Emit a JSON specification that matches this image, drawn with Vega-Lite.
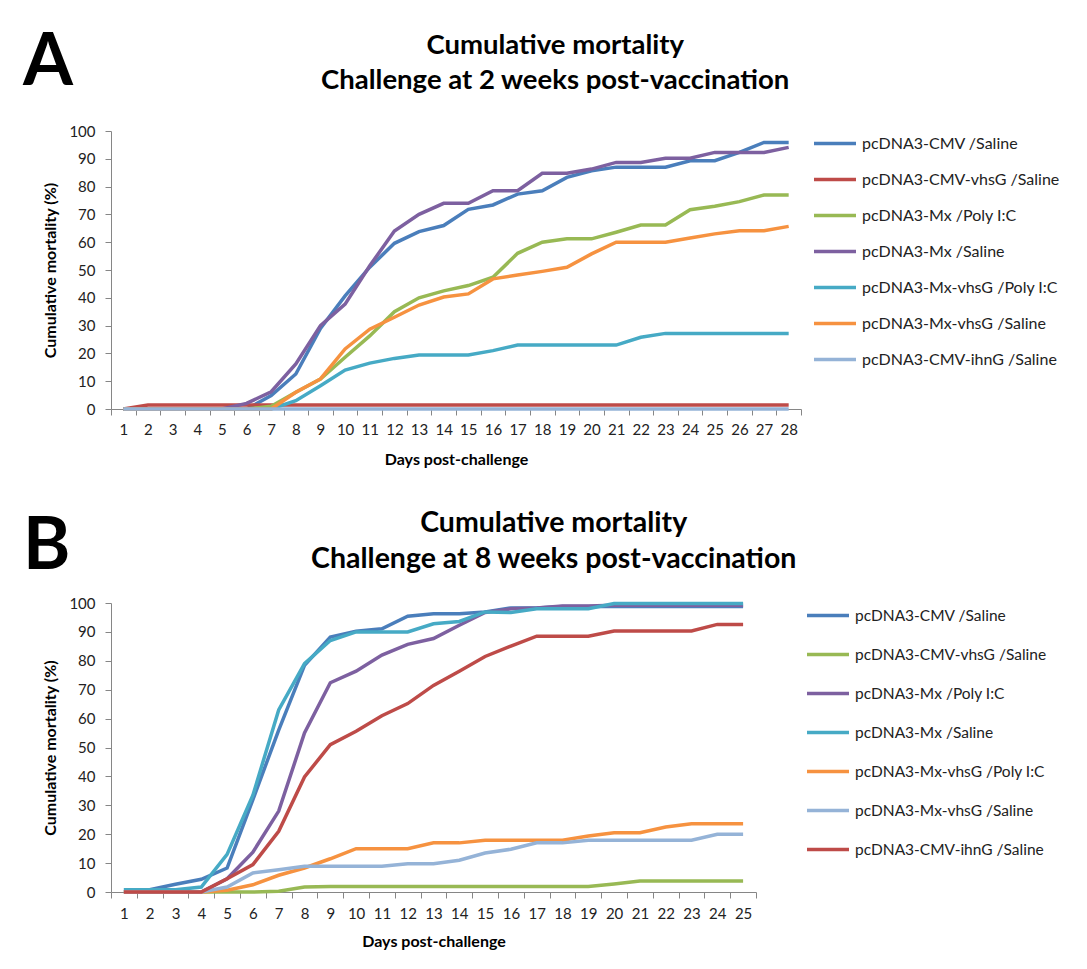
{
"$schema":"https://vega.github.io/schema/vega-lite/v6.json",
"padding":{"left":22,"top":26,"right":5,"bottom":5},
"config":{"font":"Lato","view":{"stroke":null},
 "axis":{"grid":false,"domainColor":"#868686","tickColor":"#868686","labelColor":"#222","labelFontSize":15,"titleFontSize":16,"titleFontWeight":"bold","titleColor":"#000","labelFont":"Lato","titleFont":"Lato"},
 "legend":{"labelColor":"#222","labelFont":"Lato","labelLimit":0},
 "title":{"font":"Lato","color":"#000"}},
"datasets":{
"a":[
{"day":1,"group":"pcDNA3-CMV /Saline","mortality":0},{"day":2,"group":"pcDNA3-CMV /Saline","mortality":0},{"day":3,"group":"pcDNA3-CMV /Saline","mortality":0},{"day":4,"group":"pcDNA3-CMV /Saline","mortality":0},{"day":5,"group":"pcDNA3-CMV /Saline","mortality":0},{"day":6,"group":"pcDNA3-CMV /Saline","mortality":0},{"day":7,"group":"pcDNA3-CMV /Saline","mortality":4.8},{"day":8,"group":"pcDNA3-CMV /Saline","mortality":12.6},{"day":9,"group":"pcDNA3-CMV /Saline","mortality":29},{"day":10,"group":"pcDNA3-CMV /Saline","mortality":40.7},{"day":11,"group":"pcDNA3-CMV /Saline","mortality":51},{"day":12,"group":"pcDNA3-CMV /Saline","mortality":59.6},{"day":13,"group":"pcDNA3-CMV /Saline","mortality":63.8},{"day":14,"group":"pcDNA3-CMV /Saline","mortality":66},{"day":15,"group":"pcDNA3-CMV /Saline","mortality":71.8},{"day":16,"group":"pcDNA3-CMV /Saline","mortality":73.4},{"day":17,"group":"pcDNA3-CMV /Saline","mortality":77.3},{"day":18,"group":"pcDNA3-CMV /Saline","mortality":78.5},{"day":19,"group":"pcDNA3-CMV /Saline","mortality":83.3},{"day":20,"group":"pcDNA3-CMV /Saline","mortality":85.7},{"day":21,"group":"pcDNA3-CMV /Saline","mortality":87},{"day":22,"group":"pcDNA3-CMV /Saline","mortality":87},{"day":23,"group":"pcDNA3-CMV /Saline","mortality":87},{"day":24,"group":"pcDNA3-CMV /Saline","mortality":89.3},{"day":25,"group":"pcDNA3-CMV /Saline","mortality":89.3},{"day":26,"group":"pcDNA3-CMV /Saline","mortality":92.3},{"day":27,"group":"pcDNA3-CMV /Saline","mortality":95.9},{"day":28,"group":"pcDNA3-CMV /Saline","mortality":95.9},
{"day":1,"group":"pcDNA3-CMV-vhsG /Saline","mortality":0},{"day":2,"group":"pcDNA3-CMV-vhsG /Saline","mortality":1.4},{"day":3,"group":"pcDNA3-CMV-vhsG /Saline","mortality":1.4},{"day":4,"group":"pcDNA3-CMV-vhsG /Saline","mortality":1.4},{"day":5,"group":"pcDNA3-CMV-vhsG /Saline","mortality":1.4},{"day":6,"group":"pcDNA3-CMV-vhsG /Saline","mortality":1.4},{"day":7,"group":"pcDNA3-CMV-vhsG /Saline","mortality":1.4},{"day":8,"group":"pcDNA3-CMV-vhsG /Saline","mortality":1.4},{"day":9,"group":"pcDNA3-CMV-vhsG /Saline","mortality":1.4},{"day":10,"group":"pcDNA3-CMV-vhsG /Saline","mortality":1.4},{"day":11,"group":"pcDNA3-CMV-vhsG /Saline","mortality":1.4},{"day":12,"group":"pcDNA3-CMV-vhsG /Saline","mortality":1.4},{"day":13,"group":"pcDNA3-CMV-vhsG /Saline","mortality":1.4},{"day":14,"group":"pcDNA3-CMV-vhsG /Saline","mortality":1.4},{"day":15,"group":"pcDNA3-CMV-vhsG /Saline","mortality":1.4},{"day":16,"group":"pcDNA3-CMV-vhsG /Saline","mortality":1.4},{"day":17,"group":"pcDNA3-CMV-vhsG /Saline","mortality":1.4},{"day":18,"group":"pcDNA3-CMV-vhsG /Saline","mortality":1.4},{"day":19,"group":"pcDNA3-CMV-vhsG /Saline","mortality":1.4},{"day":20,"group":"pcDNA3-CMV-vhsG /Saline","mortality":1.4},{"day":21,"group":"pcDNA3-CMV-vhsG /Saline","mortality":1.4},{"day":22,"group":"pcDNA3-CMV-vhsG /Saline","mortality":1.4},{"day":23,"group":"pcDNA3-CMV-vhsG /Saline","mortality":1.4},{"day":24,"group":"pcDNA3-CMV-vhsG /Saline","mortality":1.4},{"day":25,"group":"pcDNA3-CMV-vhsG /Saline","mortality":1.4},{"day":26,"group":"pcDNA3-CMV-vhsG /Saline","mortality":1.4},{"day":27,"group":"pcDNA3-CMV-vhsG /Saline","mortality":1.4},{"day":28,"group":"pcDNA3-CMV-vhsG /Saline","mortality":1.4},
{"day":1,"group":"pcDNA3-Mx /Poly I:C","mortality":0},{"day":2,"group":"pcDNA3-Mx /Poly I:C","mortality":0},{"day":3,"group":"pcDNA3-Mx /Poly I:C","mortality":0},{"day":4,"group":"pcDNA3-Mx /Poly I:C","mortality":0},{"day":5,"group":"pcDNA3-Mx /Poly I:C","mortality":0},{"day":6,"group":"pcDNA3-Mx /Poly I:C","mortality":0},{"day":7,"group":"pcDNA3-Mx /Poly I:C","mortality":1},{"day":8,"group":"pcDNA3-Mx /Poly I:C","mortality":6},{"day":9,"group":"pcDNA3-Mx /Poly I:C","mortality":10.8},{"day":10,"group":"pcDNA3-Mx /Poly I:C","mortality":18.6},{"day":11,"group":"pcDNA3-Mx /Poly I:C","mortality":26.3},{"day":12,"group":"pcDNA3-Mx /Poly I:C","mortality":35},{"day":13,"group":"pcDNA3-Mx /Poly I:C","mortality":40},{"day":14,"group":"pcDNA3-Mx /Poly I:C","mortality":42.5},{"day":15,"group":"pcDNA3-Mx /Poly I:C","mortality":44.4},{"day":16,"group":"pcDNA3-Mx /Poly I:C","mortality":47.4},{"day":17,"group":"pcDNA3-Mx /Poly I:C","mortality":56},{"day":18,"group":"pcDNA3-Mx /Poly I:C","mortality":60},{"day":19,"group":"pcDNA3-Mx /Poly I:C","mortality":61.2},{"day":20,"group":"pcDNA3-Mx /Poly I:C","mortality":61.2},{"day":21,"group":"pcDNA3-Mx /Poly I:C","mortality":63.6},{"day":22,"group":"pcDNA3-Mx /Poly I:C","mortality":66.2},{"day":23,"group":"pcDNA3-Mx /Poly I:C","mortality":66.2},{"day":24,"group":"pcDNA3-Mx /Poly I:C","mortality":71.7},{"day":25,"group":"pcDNA3-Mx /Poly I:C","mortality":72.9},{"day":26,"group":"pcDNA3-Mx /Poly I:C","mortality":74.6},{"day":27,"group":"pcDNA3-Mx /Poly I:C","mortality":77},{"day":28,"group":"pcDNA3-Mx /Poly I:C","mortality":77},
{"day":1,"group":"pcDNA3-Mx /Saline","mortality":0},{"day":2,"group":"pcDNA3-Mx /Saline","mortality":0},{"day":3,"group":"pcDNA3-Mx /Saline","mortality":0},{"day":4,"group":"pcDNA3-Mx /Saline","mortality":0},{"day":5,"group":"pcDNA3-Mx /Saline","mortality":0},{"day":6,"group":"pcDNA3-Mx /Saline","mortality":2},{"day":7,"group":"pcDNA3-Mx /Saline","mortality":6.2},{"day":8,"group":"pcDNA3-Mx /Saline","mortality":16.2},{"day":9,"group":"pcDNA3-Mx /Saline","mortality":30},{"day":10,"group":"pcDNA3-Mx /Saline","mortality":37.7},{"day":11,"group":"pcDNA3-Mx /Saline","mortality":51.5},{"day":12,"group":"pcDNA3-Mx /Saline","mortality":64},{"day":13,"group":"pcDNA3-Mx /Saline","mortality":70},{"day":14,"group":"pcDNA3-Mx /Saline","mortality":74},{"day":15,"group":"pcDNA3-Mx /Saline","mortality":74},{"day":16,"group":"pcDNA3-Mx /Saline","mortality":78.5},{"day":17,"group":"pcDNA3-Mx /Saline","mortality":78.5},{"day":18,"group":"pcDNA3-Mx /Saline","mortality":84.8},{"day":19,"group":"pcDNA3-Mx /Saline","mortality":84.8},{"day":20,"group":"pcDNA3-Mx /Saline","mortality":86.3},{"day":21,"group":"pcDNA3-Mx /Saline","mortality":88.7},{"day":22,"group":"pcDNA3-Mx /Saline","mortality":88.7},{"day":23,"group":"pcDNA3-Mx /Saline","mortality":90.2},{"day":24,"group":"pcDNA3-Mx /Saline","mortality":90.2},{"day":25,"group":"pcDNA3-Mx /Saline","mortality":92.3},{"day":26,"group":"pcDNA3-Mx /Saline","mortality":92.3},{"day":27,"group":"pcDNA3-Mx /Saline","mortality":92.3},{"day":28,"group":"pcDNA3-Mx /Saline","mortality":94.1},
{"day":1,"group":"pcDNA3-Mx-vhsG /Poly I:C","mortality":0},{"day":2,"group":"pcDNA3-Mx-vhsG /Poly I:C","mortality":0},{"day":3,"group":"pcDNA3-Mx-vhsG /Poly I:C","mortality":0},{"day":4,"group":"pcDNA3-Mx-vhsG /Poly I:C","mortality":0},{"day":5,"group":"pcDNA3-Mx-vhsG /Poly I:C","mortality":0},{"day":6,"group":"pcDNA3-Mx-vhsG /Poly I:C","mortality":0},{"day":7,"group":"pcDNA3-Mx-vhsG /Poly I:C","mortality":0},{"day":8,"group":"pcDNA3-Mx-vhsG /Poly I:C","mortality":3},{"day":9,"group":"pcDNA3-Mx-vhsG /Poly I:C","mortality":8.4},{"day":10,"group":"pcDNA3-Mx-vhsG /Poly I:C","mortality":14},{"day":11,"group":"pcDNA3-Mx-vhsG /Poly I:C","mortality":16.5},{"day":12,"group":"pcDNA3-Mx-vhsG /Poly I:C","mortality":18.2},{"day":13,"group":"pcDNA3-Mx-vhsG /Poly I:C","mortality":19.4},{"day":14,"group":"pcDNA3-Mx-vhsG /Poly I:C","mortality":19.4},{"day":15,"group":"pcDNA3-Mx-vhsG /Poly I:C","mortality":19.4},{"day":16,"group":"pcDNA3-Mx-vhsG /Poly I:C","mortality":21},{"day":17,"group":"pcDNA3-Mx-vhsG /Poly I:C","mortality":23},{"day":18,"group":"pcDNA3-Mx-vhsG /Poly I:C","mortality":23},{"day":19,"group":"pcDNA3-Mx-vhsG /Poly I:C","mortality":23},{"day":20,"group":"pcDNA3-Mx-vhsG /Poly I:C","mortality":23},{"day":21,"group":"pcDNA3-Mx-vhsG /Poly I:C","mortality":23},{"day":22,"group":"pcDNA3-Mx-vhsG /Poly I:C","mortality":25.8},{"day":23,"group":"pcDNA3-Mx-vhsG /Poly I:C","mortality":27.2},{"day":24,"group":"pcDNA3-Mx-vhsG /Poly I:C","mortality":27.2},{"day":25,"group":"pcDNA3-Mx-vhsG /Poly I:C","mortality":27.2},{"day":26,"group":"pcDNA3-Mx-vhsG /Poly I:C","mortality":27.2},{"day":27,"group":"pcDNA3-Mx-vhsG /Poly I:C","mortality":27.2},{"day":28,"group":"pcDNA3-Mx-vhsG /Poly I:C","mortality":27.2},
{"day":1,"group":"pcDNA3-Mx-vhsG /Saline","mortality":0},{"day":2,"group":"pcDNA3-Mx-vhsG /Saline","mortality":0},{"day":3,"group":"pcDNA3-Mx-vhsG /Saline","mortality":0},{"day":4,"group":"pcDNA3-Mx-vhsG /Saline","mortality":0},{"day":5,"group":"pcDNA3-Mx-vhsG /Saline","mortality":0},{"day":6,"group":"pcDNA3-Mx-vhsG /Saline","mortality":0},{"day":7,"group":"pcDNA3-Mx-vhsG /Saline","mortality":0},{"day":8,"group":"pcDNA3-Mx-vhsG /Saline","mortality":6},{"day":9,"group":"pcDNA3-Mx-vhsG /Saline","mortality":10.8},{"day":10,"group":"pcDNA3-Mx-vhsG /Saline","mortality":21.6},{"day":11,"group":"pcDNA3-Mx-vhsG /Saline","mortality":28.7},{"day":12,"group":"pcDNA3-Mx-vhsG /Saline","mortality":33},{"day":13,"group":"pcDNA3-Mx-vhsG /Saline","mortality":37.4},{"day":14,"group":"pcDNA3-Mx-vhsG /Saline","mortality":40.3},{"day":15,"group":"pcDNA3-Mx-vhsG /Saline","mortality":41.4},{"day":16,"group":"pcDNA3-Mx-vhsG /Saline","mortality":46.8},{"day":17,"group":"pcDNA3-Mx-vhsG /Saline","mortality":48.2},{"day":18,"group":"pcDNA3-Mx-vhsG /Saline","mortality":49.5},{"day":19,"group":"pcDNA3-Mx-vhsG /Saline","mortality":51},{"day":20,"group":"pcDNA3-Mx-vhsG /Saline","mortality":55.8},{"day":21,"group":"pcDNA3-Mx-vhsG /Saline","mortality":60},{"day":22,"group":"pcDNA3-Mx-vhsG /Saline","mortality":60},{"day":23,"group":"pcDNA3-Mx-vhsG /Saline","mortality":60},{"day":24,"group":"pcDNA3-Mx-vhsG /Saline","mortality":61.5},{"day":25,"group":"pcDNA3-Mx-vhsG /Saline","mortality":63},{"day":26,"group":"pcDNA3-Mx-vhsG /Saline","mortality":64.1},{"day":27,"group":"pcDNA3-Mx-vhsG /Saline","mortality":64.1},{"day":28,"group":"pcDNA3-Mx-vhsG /Saline","mortality":65.7},
{"day":1,"group":"pcDNA3-CMV-ihnG /Saline","mortality":0},{"day":2,"group":"pcDNA3-CMV-ihnG /Saline","mortality":0},{"day":3,"group":"pcDNA3-CMV-ihnG /Saline","mortality":0},{"day":4,"group":"pcDNA3-CMV-ihnG /Saline","mortality":0},{"day":5,"group":"pcDNA3-CMV-ihnG /Saline","mortality":0},{"day":6,"group":"pcDNA3-CMV-ihnG /Saline","mortality":0},{"day":7,"group":"pcDNA3-CMV-ihnG /Saline","mortality":0},{"day":8,"group":"pcDNA3-CMV-ihnG /Saline","mortality":0},{"day":9,"group":"pcDNA3-CMV-ihnG /Saline","mortality":0},{"day":10,"group":"pcDNA3-CMV-ihnG /Saline","mortality":0},{"day":11,"group":"pcDNA3-CMV-ihnG /Saline","mortality":0},{"day":12,"group":"pcDNA3-CMV-ihnG /Saline","mortality":0},{"day":13,"group":"pcDNA3-CMV-ihnG /Saline","mortality":0},{"day":14,"group":"pcDNA3-CMV-ihnG /Saline","mortality":0},{"day":15,"group":"pcDNA3-CMV-ihnG /Saline","mortality":0},{"day":16,"group":"pcDNA3-CMV-ihnG /Saline","mortality":0},{"day":17,"group":"pcDNA3-CMV-ihnG /Saline","mortality":0},{"day":18,"group":"pcDNA3-CMV-ihnG /Saline","mortality":0},{"day":19,"group":"pcDNA3-CMV-ihnG /Saline","mortality":0},{"day":20,"group":"pcDNA3-CMV-ihnG /Saline","mortality":0},{"day":21,"group":"pcDNA3-CMV-ihnG /Saline","mortality":0},{"day":22,"group":"pcDNA3-CMV-ihnG /Saline","mortality":0},{"day":23,"group":"pcDNA3-CMV-ihnG /Saline","mortality":0},{"day":24,"group":"pcDNA3-CMV-ihnG /Saline","mortality":0},{"day":25,"group":"pcDNA3-CMV-ihnG /Saline","mortality":0},{"day":26,"group":"pcDNA3-CMV-ihnG /Saline","mortality":0},{"day":27,"group":"pcDNA3-CMV-ihnG /Saline","mortality":0},{"day":28,"group":"pcDNA3-CMV-ihnG /Saline","mortality":0}
],
"b":[
{"day":1,"group":"pcDNA3-CMV /Saline","mortality":0.8},{"day":2,"group":"pcDNA3-CMV /Saline","mortality":0.8},{"day":3,"group":"pcDNA3-CMV /Saline","mortality":2.7},{"day":4,"group":"pcDNA3-CMV /Saline","mortality":4.4},{"day":5,"group":"pcDNA3-CMV /Saline","mortality":8.3},{"day":6,"group":"pcDNA3-CMV /Saline","mortality":32},{"day":7,"group":"pcDNA3-CMV /Saline","mortality":56},{"day":8,"group":"pcDNA3-CMV /Saline","mortality":78.4},{"day":9,"group":"pcDNA3-CMV /Saline","mortality":88.2},{"day":10,"group":"pcDNA3-CMV /Saline","mortality":90.2},{"day":11,"group":"pcDNA3-CMV /Saline","mortality":91.1},{"day":12,"group":"pcDNA3-CMV /Saline","mortality":95.4},{"day":13,"group":"pcDNA3-CMV /Saline","mortality":96.3},{"day":14,"group":"pcDNA3-CMV /Saline","mortality":96.3},{"day":15,"group":"pcDNA3-CMV /Saline","mortality":96.9},{"day":16,"group":"pcDNA3-CMV /Saline","mortality":98.3},{"day":17,"group":"pcDNA3-CMV /Saline","mortality":98.3},{"day":18,"group":"pcDNA3-CMV /Saline","mortality":98.8},{"day":19,"group":"pcDNA3-CMV /Saline","mortality":98.8},{"day":20,"group":"pcDNA3-CMV /Saline","mortality":98.8},{"day":21,"group":"pcDNA3-CMV /Saline","mortality":98.8},{"day":22,"group":"pcDNA3-CMV /Saline","mortality":98.8},{"day":23,"group":"pcDNA3-CMV /Saline","mortality":98.8},{"day":24,"group":"pcDNA3-CMV /Saline","mortality":98.8},{"day":25,"group":"pcDNA3-CMV /Saline","mortality":98.8},
{"day":1,"group":"pcDNA3-CMV-vhsG /Saline","mortality":0},{"day":2,"group":"pcDNA3-CMV-vhsG /Saline","mortality":0},{"day":3,"group":"pcDNA3-CMV-vhsG /Saline","mortality":0},{"day":4,"group":"pcDNA3-CMV-vhsG /Saline","mortality":0},{"day":5,"group":"pcDNA3-CMV-vhsG /Saline","mortality":0},{"day":6,"group":"pcDNA3-CMV-vhsG /Saline","mortality":0},{"day":7,"group":"pcDNA3-CMV-vhsG /Saline","mortality":0.3},{"day":8,"group":"pcDNA3-CMV-vhsG /Saline","mortality":1.7},{"day":9,"group":"pcDNA3-CMV-vhsG /Saline","mortality":1.9},{"day":10,"group":"pcDNA3-CMV-vhsG /Saline","mortality":1.9},{"day":11,"group":"pcDNA3-CMV-vhsG /Saline","mortality":1.9},{"day":12,"group":"pcDNA3-CMV-vhsG /Saline","mortality":1.9},{"day":13,"group":"pcDNA3-CMV-vhsG /Saline","mortality":1.9},{"day":14,"group":"pcDNA3-CMV-vhsG /Saline","mortality":1.9},{"day":15,"group":"pcDNA3-CMV-vhsG /Saline","mortality":1.9},{"day":16,"group":"pcDNA3-CMV-vhsG /Saline","mortality":1.9},{"day":17,"group":"pcDNA3-CMV-vhsG /Saline","mortality":1.9},{"day":18,"group":"pcDNA3-CMV-vhsG /Saline","mortality":1.9},{"day":19,"group":"pcDNA3-CMV-vhsG /Saline","mortality":1.9},{"day":20,"group":"pcDNA3-CMV-vhsG /Saline","mortality":2.8},{"day":21,"group":"pcDNA3-CMV-vhsG /Saline","mortality":3.8},{"day":22,"group":"pcDNA3-CMV-vhsG /Saline","mortality":3.8},{"day":23,"group":"pcDNA3-CMV-vhsG /Saline","mortality":3.8},{"day":24,"group":"pcDNA3-CMV-vhsG /Saline","mortality":3.8},{"day":25,"group":"pcDNA3-CMV-vhsG /Saline","mortality":3.8},
{"day":1,"group":"pcDNA3-Mx /Poly I:C","mortality":0},{"day":2,"group":"pcDNA3-Mx /Poly I:C","mortality":0},{"day":3,"group":"pcDNA3-Mx /Poly I:C","mortality":0},{"day":4,"group":"pcDNA3-Mx /Poly I:C","mortality":0},{"day":5,"group":"pcDNA3-Mx /Poly I:C","mortality":4.6},{"day":6,"group":"pcDNA3-Mx /Poly I:C","mortality":13.8},{"day":7,"group":"pcDNA3-Mx /Poly I:C","mortality":28},{"day":8,"group":"pcDNA3-Mx /Poly I:C","mortality":55},{"day":9,"group":"pcDNA3-Mx /Poly I:C","mortality":72.4},{"day":10,"group":"pcDNA3-Mx /Poly I:C","mortality":76.4},{"day":11,"group":"pcDNA3-Mx /Poly I:C","mortality":82},{"day":12,"group":"pcDNA3-Mx /Poly I:C","mortality":85.7},{"day":13,"group":"pcDNA3-Mx /Poly I:C","mortality":87.7},{"day":14,"group":"pcDNA3-Mx /Poly I:C","mortality":92.3},{"day":15,"group":"pcDNA3-Mx /Poly I:C","mortality":96.7},{"day":16,"group":"pcDNA3-Mx /Poly I:C","mortality":98},{"day":17,"group":"pcDNA3-Mx /Poly I:C","mortality":98.3},{"day":18,"group":"pcDNA3-Mx /Poly I:C","mortality":99},{"day":19,"group":"pcDNA3-Mx /Poly I:C","mortality":99},{"day":20,"group":"pcDNA3-Mx /Poly I:C","mortality":99.2},{"day":21,"group":"pcDNA3-Mx /Poly I:C","mortality":99.2},{"day":22,"group":"pcDNA3-Mx /Poly I:C","mortality":99.2},{"day":23,"group":"pcDNA3-Mx /Poly I:C","mortality":99.2},{"day":24,"group":"pcDNA3-Mx /Poly I:C","mortality":99.2},{"day":25,"group":"pcDNA3-Mx /Poly I:C","mortality":99.2},
{"day":1,"group":"pcDNA3-Mx /Saline","mortality":0.8},{"day":2,"group":"pcDNA3-Mx /Saline","mortality":0.8},{"day":3,"group":"pcDNA3-Mx /Saline","mortality":0.8},{"day":4,"group":"pcDNA3-Mx /Saline","mortality":1.7},{"day":5,"group":"pcDNA3-Mx /Saline","mortality":13},{"day":6,"group":"pcDNA3-Mx /Saline","mortality":33.5},{"day":7,"group":"pcDNA3-Mx /Saline","mortality":63},{"day":8,"group":"pcDNA3-Mx /Saline","mortality":79},{"day":9,"group":"pcDNA3-Mx /Saline","mortality":87},{"day":10,"group":"pcDNA3-Mx /Saline","mortality":90},{"day":11,"group":"pcDNA3-Mx /Saline","mortality":90},{"day":12,"group":"pcDNA3-Mx /Saline","mortality":90},{"day":13,"group":"pcDNA3-Mx /Saline","mortality":92.8},{"day":14,"group":"pcDNA3-Mx /Saline","mortality":93.6},{"day":15,"group":"pcDNA3-Mx /Saline","mortality":96.9},{"day":16,"group":"pcDNA3-Mx /Saline","mortality":96.7},{"day":17,"group":"pcDNA3-Mx /Saline","mortality":98},{"day":18,"group":"pcDNA3-Mx /Saline","mortality":98},{"day":19,"group":"pcDNA3-Mx /Saline","mortality":98},{"day":20,"group":"pcDNA3-Mx /Saline","mortality":99.8},{"day":21,"group":"pcDNA3-Mx /Saline","mortality":99.8},{"day":22,"group":"pcDNA3-Mx /Saline","mortality":99.8},{"day":23,"group":"pcDNA3-Mx /Saline","mortality":99.8},{"day":24,"group":"pcDNA3-Mx /Saline","mortality":99.8},{"day":25,"group":"pcDNA3-Mx /Saline","mortality":99.8},
{"day":1,"group":"pcDNA3-Mx-vhsG /Poly I:C","mortality":0},{"day":2,"group":"pcDNA3-Mx-vhsG /Poly I:C","mortality":0},{"day":3,"group":"pcDNA3-Mx-vhsG /Poly I:C","mortality":0},{"day":4,"group":"pcDNA3-Mx-vhsG /Poly I:C","mortality":0},{"day":5,"group":"pcDNA3-Mx-vhsG /Poly I:C","mortality":0.6},{"day":6,"group":"pcDNA3-Mx-vhsG /Poly I:C","mortality":2.5},{"day":7,"group":"pcDNA3-Mx-vhsG /Poly I:C","mortality":5.8},{"day":8,"group":"pcDNA3-Mx-vhsG /Poly I:C","mortality":8.3},{"day":9,"group":"pcDNA3-Mx-vhsG /Poly I:C","mortality":11.5},{"day":10,"group":"pcDNA3-Mx-vhsG /Poly I:C","mortality":15},{"day":11,"group":"pcDNA3-Mx-vhsG /Poly I:C","mortality":15},{"day":12,"group":"pcDNA3-Mx-vhsG /Poly I:C","mortality":15},{"day":13,"group":"pcDNA3-Mx-vhsG /Poly I:C","mortality":17},{"day":14,"group":"pcDNA3-Mx-vhsG /Poly I:C","mortality":17},{"day":15,"group":"pcDNA3-Mx-vhsG /Poly I:C","mortality":17.9},{"day":16,"group":"pcDNA3-Mx-vhsG /Poly I:C","mortality":17.9},{"day":17,"group":"pcDNA3-Mx-vhsG /Poly I:C","mortality":17.9},{"day":18,"group":"pcDNA3-Mx-vhsG /Poly I:C","mortality":17.9},{"day":19,"group":"pcDNA3-Mx-vhsG /Poly I:C","mortality":19.4},{"day":20,"group":"pcDNA3-Mx-vhsG /Poly I:C","mortality":20.5},{"day":21,"group":"pcDNA3-Mx-vhsG /Poly I:C","mortality":20.5},{"day":22,"group":"pcDNA3-Mx-vhsG /Poly I:C","mortality":22.5},{"day":23,"group":"pcDNA3-Mx-vhsG /Poly I:C","mortality":23.6},{"day":24,"group":"pcDNA3-Mx-vhsG /Poly I:C","mortality":23.6},{"day":25,"group":"pcDNA3-Mx-vhsG /Poly I:C","mortality":23.6},
{"day":1,"group":"pcDNA3-Mx-vhsG /Saline","mortality":0},{"day":2,"group":"pcDNA3-Mx-vhsG /Saline","mortality":0},{"day":3,"group":"pcDNA3-Mx-vhsG /Saline","mortality":0},{"day":4,"group":"pcDNA3-Mx-vhsG /Saline","mortality":0},{"day":5,"group":"pcDNA3-Mx-vhsG /Saline","mortality":1.7},{"day":6,"group":"pcDNA3-Mx-vhsG /Saline","mortality":6.6},{"day":7,"group":"pcDNA3-Mx-vhsG /Saline","mortality":7.7},{"day":8,"group":"pcDNA3-Mx-vhsG /Saline","mortality":8.9},{"day":9,"group":"pcDNA3-Mx-vhsG /Saline","mortality":8.9},{"day":10,"group":"pcDNA3-Mx-vhsG /Saline","mortality":8.9},{"day":11,"group":"pcDNA3-Mx-vhsG /Saline","mortality":8.9},{"day":12,"group":"pcDNA3-Mx-vhsG /Saline","mortality":9.8},{"day":13,"group":"pcDNA3-Mx-vhsG /Saline","mortality":9.8},{"day":14,"group":"pcDNA3-Mx-vhsG /Saline","mortality":11},{"day":15,"group":"pcDNA3-Mx-vhsG /Saline","mortality":13.5},{"day":16,"group":"pcDNA3-Mx-vhsG /Saline","mortality":14.8},{"day":17,"group":"pcDNA3-Mx-vhsG /Saline","mortality":17},{"day":18,"group":"pcDNA3-Mx-vhsG /Saline","mortality":17},{"day":19,"group":"pcDNA3-Mx-vhsG /Saline","mortality":17.9},{"day":20,"group":"pcDNA3-Mx-vhsG /Saline","mortality":17.9},{"day":21,"group":"pcDNA3-Mx-vhsG /Saline","mortality":17.9},{"day":22,"group":"pcDNA3-Mx-vhsG /Saline","mortality":17.9},{"day":23,"group":"pcDNA3-Mx-vhsG /Saline","mortality":17.9},{"day":24,"group":"pcDNA3-Mx-vhsG /Saline","mortality":20},{"day":25,"group":"pcDNA3-Mx-vhsG /Saline","mortality":20},
{"day":1,"group":"pcDNA3-CMV-ihnG /Saline","mortality":0},{"day":2,"group":"pcDNA3-CMV-ihnG /Saline","mortality":0},{"day":3,"group":"pcDNA3-CMV-ihnG /Saline","mortality":0},{"day":4,"group":"pcDNA3-CMV-ihnG /Saline","mortality":0},{"day":5,"group":"pcDNA3-CMV-ihnG /Saline","mortality":4.6},{"day":6,"group":"pcDNA3-CMV-ihnG /Saline","mortality":9.5},{"day":7,"group":"pcDNA3-CMV-ihnG /Saline","mortality":21},{"day":8,"group":"pcDNA3-CMV-ihnG /Saline","mortality":39.8},{"day":9,"group":"pcDNA3-CMV-ihnG /Saline","mortality":51},{"day":10,"group":"pcDNA3-CMV-ihnG /Saline","mortality":55.6},{"day":11,"group":"pcDNA3-CMV-ihnG /Saline","mortality":61},{"day":12,"group":"pcDNA3-CMV-ihnG /Saline","mortality":65.2},{"day":13,"group":"pcDNA3-CMV-ihnG /Saline","mortality":71.5},{"day":14,"group":"pcDNA3-CMV-ihnG /Saline","mortality":76.4},{"day":15,"group":"pcDNA3-CMV-ihnG /Saline","mortality":81.5},{"day":16,"group":"pcDNA3-CMV-ihnG /Saline","mortality":85.1},{"day":17,"group":"pcDNA3-CMV-ihnG /Saline","mortality":88.5},{"day":18,"group":"pcDNA3-CMV-ihnG /Saline","mortality":88.5},{"day":19,"group":"pcDNA3-CMV-ihnG /Saline","mortality":88.5},{"day":20,"group":"pcDNA3-CMV-ihnG /Saline","mortality":90.3},{"day":21,"group":"pcDNA3-CMV-ihnG /Saline","mortality":90.3},{"day":22,"group":"pcDNA3-CMV-ihnG /Saline","mortality":90.3},{"day":23,"group":"pcDNA3-CMV-ihnG /Saline","mortality":90.3},{"day":24,"group":"pcDNA3-CMV-ihnG /Saline","mortality":92.6},{"day":25,"group":"pcDNA3-CMV-ihnG /Saline","mortality":92.6}
]},
"spacing":41,
"resolve":{"scale":{"color":"independent","x":"independent","y":"independent"},"legend":{"color":"independent"}},
"vconcat":[
{"title":{"text":"A","anchor":"start","frame":"bounds","fontSize":72,"fontWeight":"bold","offset":-68,"dx":-20},
 "vconcat":[{
  "data":{"name":"a"},
  "width":690,"height":278,
  "title":{"text":["Cumulative mortality","Challenge at 2 weeks post-vaccination"],"fontSize":27.5,"fontWeight":"bold","lineHeight":35,"anchor":"middle","frame":"bounds","offset":30,"dx":133},
  "mark":{"type":"line","strokeWidth":3.5},
  "encoding":{
   "x":{"field":"day","type":"ordinal","bandPosition":0.5,"scale":{"type":"band","paddingInner":0,"paddingOuter":0},
        "axis":{"title":"Days post-challenge","labelAngle":0,"tickBand":"extent","tickSize":6,"labelPadding":7,"titlePadding":14}},
   "y":{"field":"mortality","type":"quantitative","scale":{"domain":[0,100]},
        "axis":{"title":"Cumulative mortality (%)","values":[0,10,20,30,40,50,60,70,80,90,100],"tickSize":6,"labelPadding":10,"titlePadding":10}},
   "color":{"field":"group","type":"nominal",
     "scale":{"domain":["pcDNA3-CMV /Saline","pcDNA3-CMV-vhsG /Saline","pcDNA3-Mx /Poly I:C","pcDNA3-Mx /Saline","pcDNA3-Mx-vhsG /Poly I:C","pcDNA3-Mx-vhsG /Saline","pcDNA3-CMV-ihnG /Saline"],
              "range":["#4A7EBB","#BE4B48","#98B954","#7D60A0","#46AAC5","#F69240","#95B3D7"]},
     "legend":{"title":null,"orient":"right","symbolType":"M-1,0H3","symbolSize":441,"symbolStrokeWidth":3.5,"labelFontSize":16,"rowPadding":15,"offset":10,"labelOffset":25,"padding":0}}
  }
 }]
},
{"title":{"text":"B","anchor":"start","frame":"bounds","fontSize":72,"fontWeight":"bold","offset":-75,"dx":-20},
 "vconcat":[{
  "data":{"name":"b"},
  "width":645,"height":289,
  "title":{"text":["Cumulative mortality","Challenge at 8 weeks post-vaccination"],"fontSize":28.5,"fontWeight":"bold","lineHeight":36,"anchor":"middle","frame":"bounds","offset":23,"dx":154},
  "mark":{"type":"line","strokeWidth":3.5},
  "encoding":{
   "x":{"field":"day","type":"ordinal","bandPosition":0.5,"scale":{"type":"band","paddingInner":0,"paddingOuter":0},
        "axis":{"title":"Days post-challenge","labelAngle":0,"tickBand":"extent","tickSize":6,"labelPadding":8,"titlePadding":12}},
   "y":{"field":"mortality","type":"quantitative","scale":{"domain":[0,100]},
        "axis":{"title":"Cumulative mortality (%)","values":[0,10,20,30,40,50,60,70,80,90,100],"tickSize":6,"labelPadding":10,"titlePadding":10}},
   "color":{"field":"group","type":"nominal",
     "scale":{"domain":["pcDNA3-CMV /Saline","pcDNA3-CMV-vhsG /Saline","pcDNA3-Mx /Poly I:C","pcDNA3-Mx /Saline","pcDNA3-Mx-vhsG /Poly I:C","pcDNA3-Mx-vhsG /Saline","pcDNA3-CMV-ihnG /Saline"],
              "range":["#4A7EBB","#98B954","#7D60A0","#46AAC5","#F69240","#95B3D7","#BE4B48"]},
     "legend":{"title":null,"orient":"right","symbolType":"M-1,0H3","symbolSize":441,"symbolStrokeWidth":3.5,"labelFontSize":15.5,"rowPadding":18,"offset":8,"labelOffset":25,"padding":0}}
  }
 }]
}
]
}
